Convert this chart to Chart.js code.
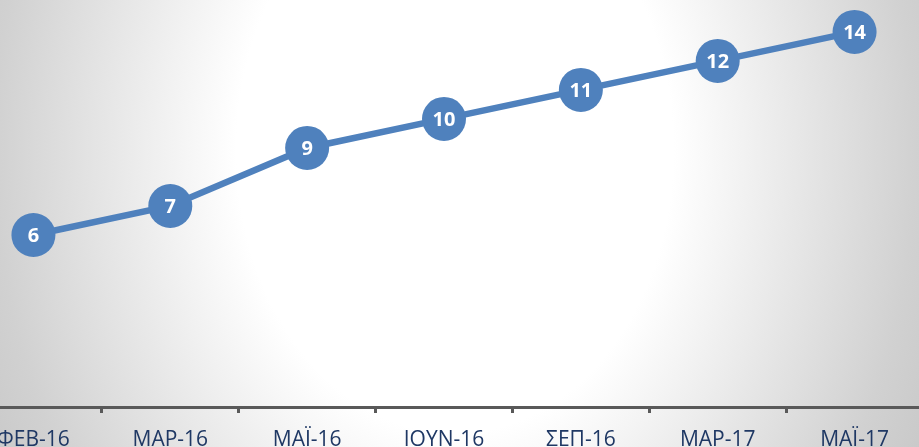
<!DOCTYPE html>
<html>
<head>
<meta charset="utf-8">
<script src="https://cdn.jsdelivr.net/npm/chart.js@4/dist/chart.umd.min.js"></script>
<style>
  html, body { margin: 0; padding: 0; overflow: hidden; }
  body {
    width: 919px; height: 447px;
    background: radial-gradient(230px 298px at 455px 150px, #ffffff 95%, #f2f2f2 125%, #d1d1d1 200%, #c2c2c2 250%);
  }
  /* the plot runs past both window edges, as in the cropped original */
  #wrap { position: absolute; left: -35px; top: 0; width: 958px; height: 447px; }
</style>
</head>
<body>
<div id="wrap"><canvas id="chart" width="958" height="447"></canvas></div>
<script>
const months = ['ΦΕΒ-16', 'ΜΑΡ-16', 'ΜΑΪ-16', 'ΙΟΥΝ-16', 'ΣΕΠ-16', 'ΜΑΡ-17', 'ΜΑΪ-17'];
// heights as plotted in the picture (last marker sits one step above 12)
const values = [6, 7, 9, 10, 11, 12, 13];
// texts printed inside the markers
const pointLabels = ['6', '7', '9', '10', '11', '12', '14'];

const blue = '#4f81bd';

// Write the value inside each marker
const pointLabelPlugin = {
  id: 'pointLabels',
  afterDatasetsDraw(chart) {
    const { ctx } = chart;
    const meta = chart.getDatasetMeta(0);
    ctx.save();
    ctx.font = 'bold 20px "Open Sans"';
    ctx.fillStyle = '#ffffff';
    ctx.textAlign = 'center';
    ctx.textBaseline = 'middle';
    meta.data.forEach((pt, i) => ctx.fillText(pointLabels[i], pt.x, pt.y + 1));
    ctx.restore();
  }
};

new Chart(document.getElementById('chart'), {
  type: 'line',
  data: {
    labels: months,
    datasets: [{
      data: values,
      borderColor: blue,
      borderWidth: 6.5,
      tension: 0,
      pointRadius: 22,
      pointHoverRadius: 22,
      pointBackgroundColor: blue,
      pointBorderColor: blue,
      pointBorderWidth: 0,
      clip: false
    }]
  },
  options: {
    responsive: false,
    animation: false,
    layout: { padding: 0, autoPadding: false },
    plugins: { legend: { display: false }, tooltip: { enabled: false } },
    scales: {
      y: { display: false, min: 0.07, max: 14.1 },
      x: {
        offset: true,
        afterFit: (scale) => { scale.height = 40; },
        grid: {
          offset: true,
          drawOnChartArea: false,
          tickLength: 6,
          tickWidth: 3,
          tickColor: '#595959'
        },
        border: { color: '#595959', width: 3 },
        ticks: {
          padding: 14,
          color: '#1f3864',
          font: { family: '"Open Sans"', size: 21 }
        }
      }
    }
  },
  plugins: [pointLabelPlugin]
});
</script>
</body>
</html>
